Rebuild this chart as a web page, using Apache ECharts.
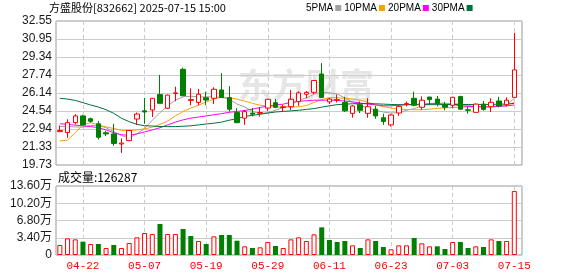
<!DOCTYPE html>
<html><head><meta charset="utf-8">
<script src="https://cdn.jsdelivr.net/npm/echarts@6/dist/echarts.min.js"></script>
<style>html,body{margin:0;padding:0;background:#fff}#c{width:578px;height:276px}</style>
</head><body><div id="c"></div>
<script>
const dates = ['04-17','04-18','04-21','04-22','04-23','04-24','04-25','04-28','04-29','04-30',
'05-06','05-07','05-08','05-09','05-12','05-13','05-14','05-15','05-16','05-19',
'05-20','05-21','05-22','05-23','05-26','05-27','05-28','05-29','05-30','06-03',
'06-04','06-05','06-06','06-09','06-10','06-11','06-12','06-13','06-16','06-17',
'06-18','06-19','06-20','06-23','06-24','06-25','06-26','06-27','06-30','07-01',
'07-02','07-03','07-04','07-07','07-08','07-09','07-10','07-11','07-14','07-15'];
const opens = [22.70,22.62,23.50,24.10,23.85,23.40,22.60,22.50,21.60,21.90,
23.82,24.55,24.63,26.00,24.78,26.10,28.25,25.48,25.30,25.72,
25.67,26.41,25.73,24.40,23.90,24.35,24.35,24.80,25.28,24.85,
24.92,25.37,26.03,26.20,27.83,25.35,25.50,25.30,24.33,25.10,
24.33,24.70,23.94,23.30,24.36,25.12,25.67,24.87,25.78,25.60,
25.13,25.05,25.82,24.65,24.42,25.15,24.92,25.43,25.10,25.75];
const closes = [22.80,23.50,24.10,23.30,23.62,22.20,22.50,21.65,21.68,22.80,
24.27,24.45,25.67,25.22,25.95,26.15,25.90,25.55,26.03,25.52,
26.47,25.73,24.70,23.50,24.48,24.25,24.40,25.58,24.87,24.90,
25.58,26.15,26.20,27.25,25.75,25.60,25.55,24.55,24.98,24.60,
24.92,24.10,23.60,24.18,24.95,25.20,25.05,25.50,25.55,25.22,
24.87,25.76,24.70,24.60,25.15,24.68,25.31,24.98,25.50,28.20];
const lows = [22.65,22.15,23.35,23.25,23.50,22.00,22.30,21.45,20.80,21.85,
23.30,23.40,24.00,25.20,24.75,25.40,25.85,25.05,25.05,25.05,
25.15,25.70,24.48,23.45,23.30,24.05,24.05,24.55,24.78,24.50,
24.63,25.00,25.67,26.05,25.70,25.15,25.30,24.45,23.95,24.35,
23.94,23.85,23.30,23.15,24.10,24.95,24.95,24.65,25.10,24.95,
24.60,24.80,24.65,24.30,24.40,24.57,24.45,24.85,24.95,25.70];
const highs = [23.25,23.80,24.25,24.20,23.95,23.65,22.75,23.40,22.10,22.85,
24.40,25.70,25.70,27.75,26.00,26.70,28.40,26.55,26.50,26.25,
26.65,27.90,26.75,24.80,24.63,24.80,24.85,25.60,25.60,25.10,
26.40,26.30,26.32,27.30,28.80,25.70,26.00,25.80,25.05,25.40,
25.67,25.00,24.30,24.25,25.10,25.38,26.26,25.85,25.80,25.88,
25.35,25.80,25.90,24.90,25.22,25.42,25.67,25.80,25.75,31.50];
const volumes = [19700,32800,30800,26300,21700,21700,13800,19700,13800,23700,
34800,43400,41400,61100,41400,41400,51200,37400,27600,21700,
36800,39400,39400,28200,17100,13800,15100,25600,17700,13800,
30800,34800,27600,40700,54500,29600,25600,27600,19000,13800,
30800,27600,15800,11200,19000,19000,33500,23000,17100,17100,
11800,25600,25600,13800,17100,15800,30800,27600,27600,126287];
const ma5 = [23.15,23.15,23.12,23.10,23.25,23.25,23.05,22.70,22.35,22.15,
22.50,23.00,23.70,24.40,25.00,25.50,25.80,25.85,25.80,25.80,
25.80,25.75,25.60,25.15,24.90,24.50,24.30,24.40,24.60,24.85,
25.05,25.50,25.70,26.05,26.20,26.15,26.05,25.70,25.30,25.00,
24.85,24.60,24.45,24.35,24.40,24.60,24.75,25.00,25.20,25.25,
25.22,25.20,25.15,25.02,24.95,24.90,24.90,24.98,25.10,25.65];
const ma10 = [21.87,21.95,22.60,23.30,23.50,23.30,23.12,22.98,22.82,22.80,
22.85,22.95,23.10,23.35,23.65,24.10,24.50,24.80,25.05,25.35,
25.60,25.80,25.72,25.60,25.42,25.22,25.05,24.95,24.90,24.88,
24.88,24.92,25.02,25.30,25.55,25.72,25.72,25.67,25.60,25.50,
25.30,25.10,24.92,24.80,24.70,24.68,24.65,24.65,24.70,24.78,
24.82,24.85,24.88,24.90,24.92,24.92,24.95,25.00,25.05,25.30];
const ma20 = [23.40,23.35,23.28,23.22,23.15,23.05,22.85,22.60,22.42,22.38,
22.50,22.68,22.85,23.05,23.30,23.55,23.75,23.90,24.00,24.10,
24.20,24.30,24.42,24.50,24.58,24.70,24.85,24.98,25.08,25.15,
25.30,25.40,25.45,25.50,25.50,25.50,25.48,25.42,25.35,25.25,
25.15,25.08,25.00,25.00,25.05,25.10,25.12,25.15,25.18,25.20,
25.12,25.10,25.02,24.95,24.92,24.90,24.92,24.95,24.98,25.08];
const ma30 = [25.67,25.60,25.48,25.28,25.07,24.89,24.65,24.33,23.89,23.59,
23.35,23.23,23.20,23.15,23.15,23.15,23.18,23.22,23.30,23.38,
23.45,23.55,23.72,23.85,24.05,24.15,24.25,24.35,24.45,24.50,
24.55,24.60,24.68,24.75,24.88,25.00,25.10,25.15,25.18,25.20,
25.20,25.18,25.15,25.12,25.10,25.10,25.10,25.10,25.10,25.10,
25.10,25.12,25.12,25.12,25.12,25.12,25.12,25.15,25.15,25.22];
const priceTicks = [19.73,21.33,22.94,24.54,26.14,27.74,29.34,30.95,32.55];
const volTicks = [0,34000,68000,102000,136000];
const dateTickIdx = [3,11,19,27,35,43,51,59];
const maNames = ['5PMA','10PMA','20PMA','30PMA'];
const maColors = ['#a0a0a0','#f5a300','#ff00ff','#00703c'];
const lastVolume = '126287';

const UP = '#ff0000', DOWN = '#008000';
const chart = echarts.init(document.getElementById('c'), null, {renderer:'canvas'});
const xy = arr => arr.map((v,i)=>[i,v]);
const candleData = opens.map((o,i)=>[i,o,closes[i],lows[i],highs[i]]);
const volData = volumes.map((v,i)=>{
  const up = i===0 ? true : closes[i] >= closes[i-1];
  return {value:[i,v], itemStyle: up ? {color:'#ffffff', borderColor:UP, borderWidth:1} : {color:DOWN, borderColor:DOWN, borderWidth:0}};
});
const baseX = (gridIndex, showLabel) => ({
  type:'value', gridIndex, min:-0.5, max:60,
  axisLine:{show:false},
  axisTick:{show:false, customValues:dateTickIdx},
  axisLabel:{show:showLabel, customValues:dateTickIdx, formatter:v=>dates[Math.round(v)]||'',
    color:'#ff0000', fontSize:11, fontFamily:'Liberation Mono, DejaVu Sans Mono, monospace', margin:6},
  splitLine:{show:true, lineStyle:{color:'#cccccc', type:[4,3], width:1}}
});
const maSeries = [ma5,ma10,ma20,ma30].map((d,k)=>({
  name:maNames[k], type:'line', xAxisIndex:0, yAxisIndex:0, data:xy(d),
  showSymbol:false, symbol:'none', smooth:false,
  lineStyle:{color:maColors[k], width:1}, itemStyle:{color:maColors[k]}, z:3
}));
chart.setOption({
  animation:false,
  title:[
    {text:'方盛股份[832662] 2025-07-15 15:00', left:49, top:2, padding:0,
     textStyle:{fontSize:11, fontWeight:'normal', color:'#000', fontFamily:'Noto Sans CJK SC'}},
    {text:'成交量:' + lastVolume, left:58, top:171, padding:0,
     textStyle:{fontSize:12, fontWeight:'normal', color:'#000', fontFamily:'Noto Sans CJK SC'}}
  ],
  legend:{data:maNames, left:306, top:3, padding:0, icon:'rect', itemWidth:6, itemHeight:6,
    align:'right', itemGap:3, selectedMode:false,
    textStyle:{fontSize:10, color:'#000', fontFamily:'Liberation Sans', padding:[0,-3,0,0]}},
  graphic:[{type:'text', left:238, top:68, z:0, silent:true,
    style:{text:'东方财富', fill:'#e6e6e6', font:'bold 34px "Noto Sans CJK SC"'}}],
  grid:[
    {left:56, top:21, width:466, height:144, show:true, borderColor:'#999999', borderWidth:1, backgroundColor:'transparent'},
    {left:56, top:186, width:466, height:69, show:true, borderColor:'#999999', borderWidth:1, backgroundColor:'transparent'}
  ],
  xAxis:[baseX(0,false), baseX(1,true)],
  yAxis:[
    {type:'value', gridIndex:0, min:19.73, max:32.5501, scale:true,
     axisLine:{show:false}, axisTick:{show:false, customValues:priceTicks},
     axisLabel:{customValues:priceTicks, formatter:v=>v.toFixed(2), color:'#1a1a1a', fontSize:12,
       fontFamily:'Liberation Sans, Arial', margin:4, showMinLabel:true, showMaxLabel:true},
     splitLine:{show:true, lineStyle:{color:'#cccccc', width:1}}},
    {type:'value', gridIndex:1, min:0, max:136000, interval:34000,
     axisLine:{show:false}, axisTick:{show:false},
     axisLabel:{formatter:v=> v===0 ? '0' : (v/10000).toFixed(2)+'万', color:'#1a1a1a', fontSize:12,
       fontFamily:'Liberation Sans, Noto Sans CJK SC', margin:4, showMinLabel:true, showMaxLabel:true},
     splitLine:{show:true, lineStyle:{color:'#cccccc', width:1}}}
  ],
  series:[
    {type:'candlestick', name:'K', xAxisIndex:0, yAxisIndex:0, data:candleData,
     encode:{x:0, y:[1,2,3,4]}, barWidth:5, z:4,
     itemStyle:{color:'#ffffff', color0:DOWN, borderColor:UP, borderColor0:DOWN, borderWidth:1}},
    ...maSeries,
    {type:'bar', name:'VOL', xAxisIndex:1, yAxisIndex:1, data:volData, barWidth:5, encode:{x:0,y:1}}
  ]
});
</script></body></html>
